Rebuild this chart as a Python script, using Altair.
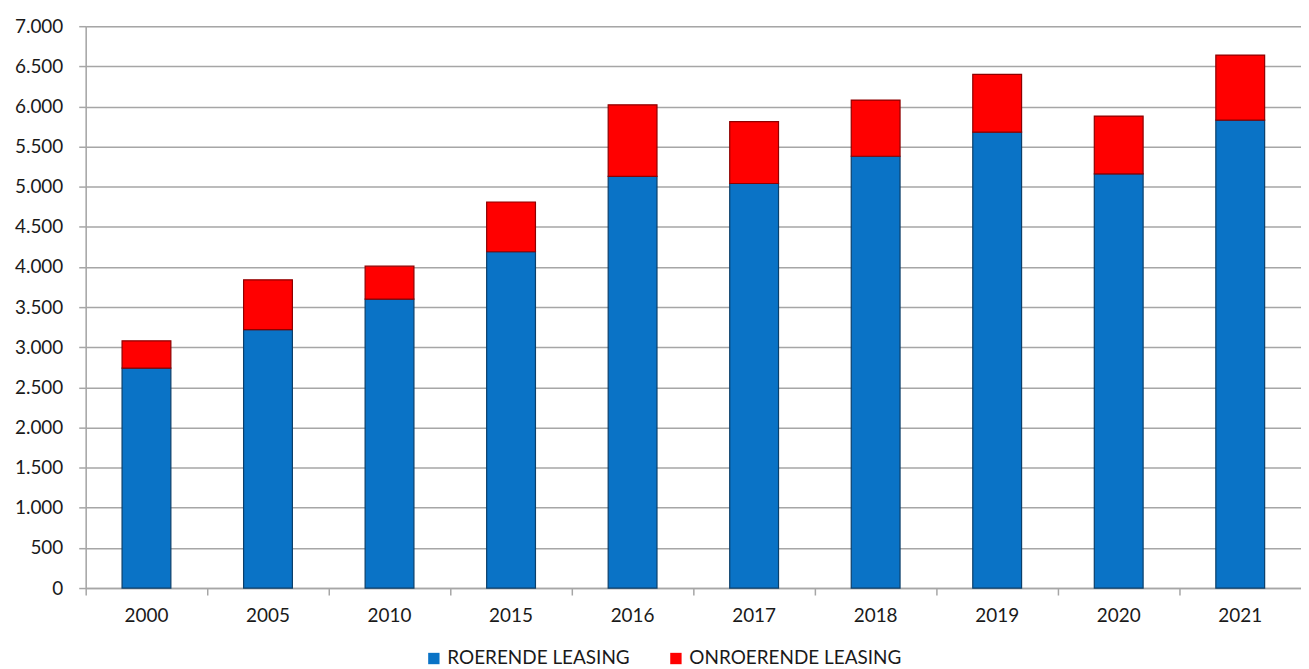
import altair as alt
import pandas as pd

years = ["2000", "2005", "2010", "2015", "2016", "2017", "2018", "2019", "2020", "2021"]
roerende = [2740, 3220, 3600, 4190, 5130, 5040, 5380, 5680, 5160, 5830]
totaal = [3080, 3840, 4010, 4810, 6020, 5810, 6080, 6400, 5880, 6640]
onroerende = [t - r for t, r in zip(totaal, roerende)]
series = ["ROERENDE LEASING", "ONROERENDE LEASING"]
colors = ["#0A73C6", "#FF0000"]
strokes = ["#0B3F6A", "#8E0000"]

rows = []
for y, r, o in zip(years, roerende, onroerende):
    rows.append({"jaar": y, "reeks": series[0], "waarde": r, "ord": 0})
    rows.append({"jaar": y, "reeks": series[1], "waarde": o, "ord": 1})
df = pd.DataFrame(rows)

FONT = "Lato"
FS = 19
TXT = "#1a1a1a"
W = 1220

chart = alt.Chart(df).mark_bar(strokeWidth=1.2, size=49).encode(
    x=alt.X("jaar:N", sort=years, title=None,
            scale=alt.Scale(paddingInner=0, paddingOuter=0),
            axis=alt.Axis(labelAngle=0, labelFontSize=FS, labelFont=FONT, labelColor=TXT,
                          bandPosition=0,
                          tickSize=7, tickColor="#A6A6A6", tickWidth=1.5,
                          domainColor="#A6A6A6", domainWidth=1.5, labelPadding=12, grid=False)),
    y=alt.Y("waarde:Q", stack="zero", title=None,
            scale=alt.Scale(domain=[0, 7000], nice=False),
            axis=alt.Axis(values=list(range(0, 7001, 500)),
                          labelExpr="replace(format(datum.value, ','), ',', '.')",
                          labelFontSize=FS, labelFont=FONT, labelColor=TXT,
                          tickSize=7, tickColor="#A6A6A6", tickWidth=1.5,
                          domainColor="#A6A6A6", domainWidth=1.5, labelPadding=16,
                          gridColor="#A6A6A6", gridWidth=1.5)),
    color=alt.Color("reeks:N", sort=series,
                    scale=alt.Scale(domain=series, range=colors),
                    legend=alt.Legend(title=None, orient="none", direction="horizontal",
                                      legendX=340, legendY=625,
                                      symbolType="square", symbolSize=130,
                                      symbolStrokeWidth=0, labelLimit=0,
                                      labelFontSize=FS, labelFont=FONT, labelColor=TXT,
                                      columnPadding=36, labelOffset=4)),
    stroke=alt.Stroke("reeks:N", scale=alt.Scale(domain=series, range=strokes), legend=None),
    order=alt.Order("ord:Q"),
).properties(
    width=W, height=564,
    autosize=alt.AutoSizeParams(type="none"),
    padding={"left": 78, "top": 17, "right": 0, "bottom": 80},
).configure_view(stroke=None).configure(background="white")

chart.save("out.html", embed_options={"renderer": "svg", "actions": False})
